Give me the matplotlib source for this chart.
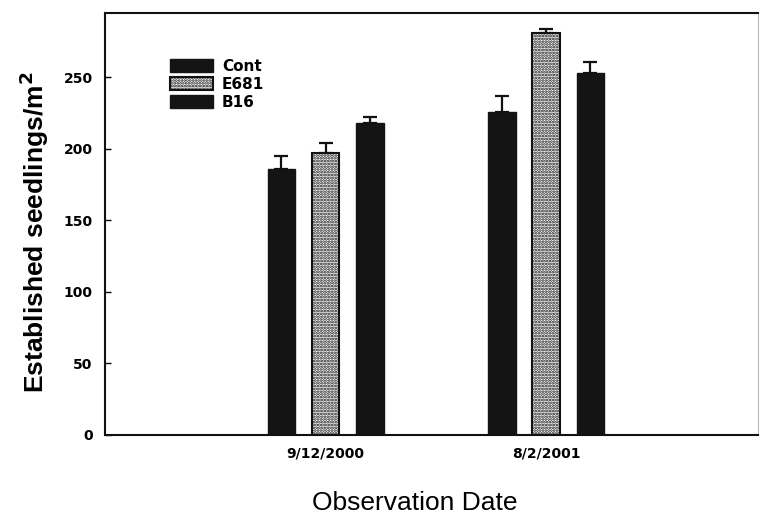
import matplotlib
matplotlib.use("Agg")
import matplotlib.pyplot as plt
import numpy as np

dates = ["9/12/2000", "8/2/2001"]
series = ["Cont", "E681", "B16"]
cont = [186, 226]
e681 = [197, 281]
b16 = [218, 253]
cont_err = [9, 11]
e681_err = [7, 3]
b16_err = [4, 8]

plt.rcParams['font.family'] = ['Liberation Sans', 'DejaVu Sans']
plt.rcParams['hatch.linewidth'] = 1.3

fig = plt.figure(figsize=(7.6, 5.17), dpi=100)
ax = fig.add_axes([105/760, 1-435/517, (758-105)/760, (435-13)/517])

x = np.arange(len(dates))
w = 0.125
off = 0.2
vals = [cont, e681, b16]
errs = [cont_err, e681_err, b16_err]
styles = [dict(color='#141414', edgecolor='#141414'),
          dict(color='white', edgecolor='#111111', hatch='......', linewidth=1.5),
          dict(color='#141414', edgecolor='#141414')]
handles = []
for i, (v, e, st) in enumerate(zip(vals, errs, styles)):
    b = ax.bar(x + (i-1)*off, v, w, yerr=[np.zeros(len(e)), e],
               error_kw=dict(ecolor='#111111', elinewidth=1.6, capsize=5, capthick=1.6),
               label=series[i], zorder=2, **st)
    handles.append(b)

ax.set_xlim(-1.0, 1.96)
ax.set_ylim(0, 295)
ax.set_yticks([0, 50, 100, 150, 200, 250])
ax.set_xticks(x)
ax.set_xticklabels(dates, fontsize=10, fontweight='bold', family='DejaVu Sans')
ax.tick_params(axis='x', length=0, pad=8)
ax.tick_params(axis='y', direction='in', length=4, width=1, labelsize=10, pad=9)
for lab in ax.get_yticklabels():
    lab.set_fontweight('bold')
    lab.set_family('DejaVu Sans')
for s in ['left', 'bottom', 'top']:
    ax.spines[s].set_linewidth(1.5)
    ax.spines[s].set_color('#111111')
ax.spines['right'].set_linewidth(0.8)
ax.spines['right'].set_color('#bbbbbb')

ax.set_ylabel("Established seedlings/m$^\\mathbf{2}$", fontsize=19, fontweight='bold')
ax.yaxis.set_label_coords(-0.083, 0.48)
fig.text(415/760, 1-503/517, "Observation Date", fontsize=19, ha='center', va='center')

ax.legend(handles=handles, labels=series, loc='upper left',
          bbox_to_anchor=(170/760, 1-59/517), bbox_transform=fig.transFigure,
          frameon=False, prop=dict(weight='bold', size=11, family='DejaVu Sans'),
          handlelength=2.8, handleheight=0.9, handletextpad=0.6,
          labelspacing=0.2, borderpad=0, borderaxespad=0)

fig.savefig("out.png", dpi=100)
